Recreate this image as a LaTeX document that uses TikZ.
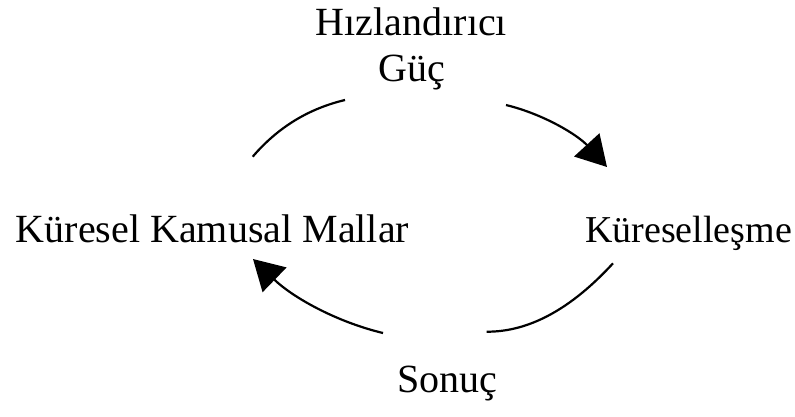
\documentclass[tikz,border=0pt]{standalone}
\usepackage{fontspec}
\setmainfont{Liberation Serif}
\usetikzlibrary{arrows.meta}
\tikzset{
  lbl/.style={inner sep=0pt, anchor=base, font=\fontsize{40}{48}\selectfont},
  arc/.style={line width=2.2pt, black},
  arrowarc/.style={arc, -{Triangle[length=30pt,width=34pt]}}
}
\begin{document}
\begin{tikzpicture}[x=1pt,y=-1pt]
\useasboundingbox (0,0) rectangle (795,416);
\node[lbl] (hiz) at (411.5,35) {Hızlandırıcı};
\node[lbl] (guc) at (412,81) {Güç};
\node[lbl] (kkm) at (212.5,242) {Küresel Kamusal Mallar};
\node[lbl, font=\fontsize{38}{46}\selectfont] (kur) at (688.5,242) {Küreselleşme};
\node[lbl] (son) at (447.5,392) {Sonuç};
\coordinate (a1) at (252.7,156.7);
\coordinate (a2) at (345,100);
\coordinate (b1) at (506,105);
\coordinate (b2) at (607,167);
\coordinate (c1) at (613,263.3);
\coordinate (c2) at (486.7,331.7);
\coordinate (d1) at (383,333);
\coordinate (d2) at (253,259);
\draw[arc] (a1) .. controls (277.6,127.6) and (308.3,108.7) .. (a2);
\draw[arrowarc] (b1) .. controls (544,114.3) and (577.7,135) .. (b2);
\draw[arc] (c1) .. controls (571,309.1) and (528.9,331.9) .. (c2);
\draw[arrowarc] (d1) .. controls (335.7,321.7) and (292.3,297) .. (d2);
\end{tikzpicture}
\end{document}
